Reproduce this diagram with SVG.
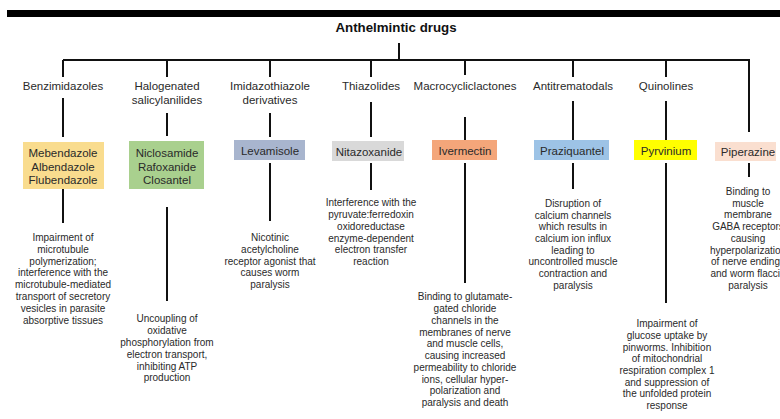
<svg xmlns="http://www.w3.org/2000/svg" width="780" height="419" viewBox="0 0 780 419">
<style>
text{font-family:"Liberation Sans",Arial,sans-serif;fill:#2a2a2a;text-anchor:middle}
.title{font-size:13.3px;font-weight:bold;fill:#111}
.cat{font-size:11.5px}
.box{font-size:11.5px}
.desc{font-size:10px}
.ln{stroke:#111;stroke-width:2;fill:none}
</style>
<rect x="7" y="10" width="773" height="7" fill="#000"/>
<g id="title"><text class="title" x="396" y="32">Anthelmintic drugs</text></g>
<g id="connectors">
<path class="ln" d="M399 43V60M63 60H749V132"/>
<path class="ln" d="M63 60V77M167 60V77M270 60V77M371 60V77M465 60V75M573 60V77M666 60V77"/>
<path class="ln" d="M63 98V137M167 113V136M270 113V137M371 102V137M465 117V140M573 101V140M666 101V140"/>
<path class="ln" d="M63 189V223M167 207V301M270 163V221M371 163V190M465 163V283M573 163V189M666 163V303M749 163V177"/>
</g>
<g id="benzimidazoles">
<text class="cat" x="63" y="90">Benzimidazoles</text>
<rect x="23" y="142" width="81" height="47" fill="#F9DC8E"/>
<text class="box" x="63" y="157">Mebendazole</text>
<text class="box" x="63" y="171">Albendazole</text>
<text class="box" x="63" y="183.5">Flubendazole</text>
<text class="desc" x="63"><tspan x="63" y="240.5">Impairment of</tspan><tspan x="63" y="252.5">microtubule</tspan><tspan x="63" y="264.5">polymerization;</tspan><tspan x="63" y="276">interference with the</tspan><tspan x="63" y="287.5">microtubule-mediated</tspan><tspan x="63" y="299.5">transport of secretory</tspan><tspan x="63" y="311.5">vesicles in parasite</tspan><tspan x="63" y="323.5">absorptive tissues</tspan></text>
</g>
<g id="halogenated">
<text class="cat" x="167" y="90">Halogenated</text>
<text class="cat" x="167" y="104">salicylanilides</text>
<rect x="129" y="141" width="75" height="48" fill="#A9D08E"/>
<text class="box" x="167" y="157">Niclosamide</text>
<text class="box" x="167" y="171">Rafoxanide</text>
<text class="box" x="167" y="183.5">Closantel</text>
<text class="desc"><tspan x="167" y="321.5">Uncoupling of</tspan><tspan x="167" y="333.5">oxidative</tspan><tspan x="167" y="345.5">phosphorylation from</tspan><tspan x="167" y="357.5">electron transport,</tspan><tspan x="167" y="369.5">inhibiting ATP</tspan><tspan x="167" y="380.5">production</tspan></text>
</g>
<g id="imidazothiazole">
<text class="cat" x="270" y="90">Imidazothiazole</text>
<text class="cat" x="270" y="104">derivatives</text>
<rect x="234" y="140" width="71" height="20" fill="#A8B5CE"/>
<text class="box" x="270" y="155">Levamisole</text>
<text class="desc"><tspan x="270" y="240.5">Nicotinic</tspan><tspan x="270" y="252.5">acetylcholine</tspan><tspan x="270" y="264.5">receptor agonist that</tspan><tspan x="270" y="276">causes worm</tspan><tspan x="270" y="287.5">paralysis</tspan></text>
</g>
<g id="thiazolides">
<text class="cat" x="371" y="90">Thiazolides</text>
<rect x="332" y="141" width="72" height="20" fill="#D9D9D9"/>
<text class="box" x="369" y="156">Nitazoxanide</text>
<text class="desc"><tspan x="371" y="206">Interference with the</tspan><tspan x="371" y="218">pyruvate:ferredoxin</tspan><tspan x="371" y="229.5">oxidoreductase</tspan><tspan x="371" y="241.5">enzyme-dependent</tspan><tspan x="371" y="252.5">electron transfer</tspan><tspan x="371" y="264.5">reaction</tspan></text>
</g>
<g id="macrocycliclactones">
<text class="cat" x="465" y="90">Macrocycliclactones</text>
<rect x="432" y="140" width="65" height="20" fill="#F4A67A"/>
<text class="box" x="465" y="155">Ivermectin</text>
<text class="desc"><tspan x="465" y="299.5">Binding to glutamate-</tspan><tspan x="465" y="311.5">gated chloride</tspan><tspan x="465" y="323.5">channels in the</tspan><tspan x="465" y="335.5">membranes of nerve</tspan><tspan x="465" y="346.5">and muscle cells,</tspan><tspan x="465" y="358.5">causing increased</tspan><tspan x="465" y="370.5">permeability to chloride</tspan><tspan x="465" y="382.5">ions, cellular hyper-</tspan><tspan x="465" y="393.5">polarization and</tspan><tspan x="465" y="405.5">paralysis and death</tspan></text>
</g>
<g id="antitrematodals">
<text class="cat" x="573" y="90">Antitrematodals</text>
<rect x="534" y="140" width="75" height="20" fill="#9DC3E6"/>
<text class="box" x="572" y="155">Praziquantel</text>
<text class="desc"><tspan x="573" y="206.5">Disruption of</tspan><tspan x="573" y="218.5">calcium channels</tspan><tspan x="573" y="229.5">which results in</tspan><tspan x="573" y="241.5">calcium ion influx</tspan><tspan x="573" y="253.5">leading to</tspan><tspan x="573" y="264.5">uncontrolled muscle</tspan><tspan x="573" y="276.5">contraction and</tspan><tspan x="573" y="288.5">paralysis</tspan></text>
</g>
<g id="quinolines">
<text class="cat" x="666" y="90">Quinolines</text>
<rect x="634" y="140" width="63" height="20" fill="#FFFF00"/>
<text class="box" x="666" y="155">Pyrvinium</text>
<text class="desc"><tspan x="667" y="326.5">Impairment of</tspan><tspan x="667" y="338.5">glucose uptake by</tspan><tspan x="667" y="350.5">pinworms. Inhibition</tspan><tspan x="667" y="361.5">of mitochondrial</tspan><tspan x="667" y="373.5">respiration complex 1</tspan><tspan x="667" y="385.5">and suppression of</tspan><tspan x="667" y="396.5">the unfolded protein</tspan><tspan x="667" y="408.5">response</tspan></text>
</g>
<g id="piperazine">
<rect x="715" y="142" width="61" height="19" fill="#FADFD0"/>
<text class="box" x="748" y="155.5">Piperazine</text>
<text class="desc"><tspan x="748" y="194.5">Binding to</tspan><tspan x="748" y="206.5">muscle</tspan><tspan x="748" y="217.5">membrane</tspan><tspan x="748" y="229.5">GABA receptors</tspan><tspan x="748" y="241.5">causing</tspan><tspan x="748" y="253.5">hyperpolarization</tspan><tspan x="748" y="264.5">of nerve endings</tspan><tspan x="748" y="276.5">and worm flaccid</tspan><tspan x="748" y="288.5">paralysis</tspan></text>
</g>
</svg>
